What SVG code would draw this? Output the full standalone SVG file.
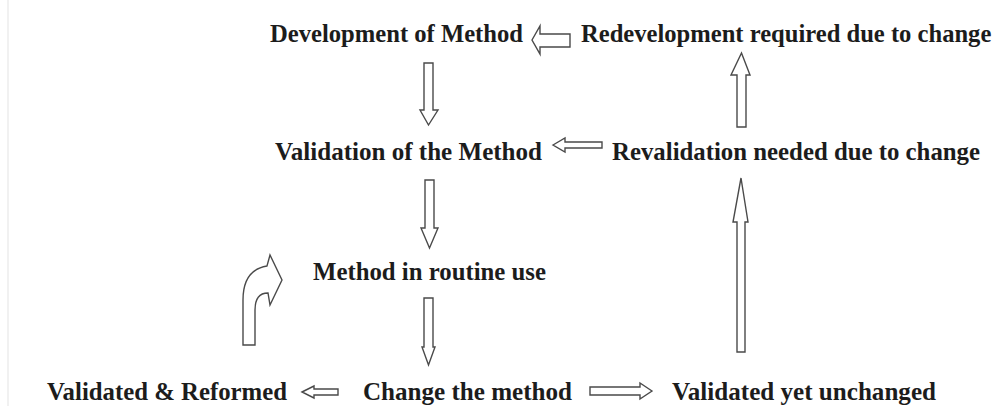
<svg xmlns="http://www.w3.org/2000/svg" width="999" height="406" viewBox="0 0 999 406">
<style>
.t{font-family:"Liberation Serif","Times New Roman",serif;font-weight:bold;font-size:26px;fill:#1c1c1c}
.a{fill:#fff;stroke:#4a4a4a;stroke-width:1.4;stroke-linejoin:miter}
</style>
<rect width="999" height="406" fill="#fff"/>
<line x1="8" y1="0" x2="8" y2="406" stroke="#ececec" stroke-width="1.5"/>
<g id="n-development"><text class="t" x="270" y="42" textLength="253" lengthAdjust="spacingAndGlyphs">Development of Method</text></g>
<g id="n-redevelopment"><text class="t" x="581" y="42" style="font-size:24.6px">Redevelopment required due to change</text></g>
<g id="n-validation"><text class="t" x="275" y="160" textLength="267" lengthAdjust="spacingAndGlyphs">Validation of the Method</text></g>
<g id="n-revalidation"><text class="t" x="612" y="160" textLength="368" lengthAdjust="spacingAndGlyphs">Revalidation needed due to change</text></g>
<g id="n-routine"><text class="t" x="313" y="280" textLength="233" lengthAdjust="spacingAndGlyphs">Method in routine use</text></g>
<g id="n-reformed"><text class="t" x="47" y="400" textLength="240" lengthAdjust="spacingAndGlyphs">Validated &amp; Reformed</text></g>
<g id="n-change"><text class="t" x="363" y="400" textLength="209" lengthAdjust="spacingAndGlyphs">Change the method</text></g>
<g id="n-unchanged"><text class="t" x="672" y="400" textLength="264" lengthAdjust="spacingAndGlyphs">Validated yet unchanged</text></g>
<g id="connectors">
<polygon class="a" points="424,63 433,63 433,110 438,110 428.5,125 420,110 424,110"/>
<polygon class="a" points="425,180 434,180 434,228 438,228 429.5,248 421,228 425,228"/>
<polygon class="a" points="424,298 433,298 433,347 435,347 428.5,365 422,347 424,347"/>
<polygon class="a" points="532,40 540,26 540,34 570,34 570,47 540,47 540,54"/>
<polygon class="a" points="553,145 565,138 565,142 602,142 602,148 565,148 565,152"/>
<polygon class="a" points="737,127 746,127 746,75 750,75 741.5,53 731,75 737,75"/>
<polygon class="a" points="737,352 745,352 745,222 748,222 741,178 733,222 737,222"/>
<polygon class="a" points="302,392 314,386 314,389 338,389 338,395 314,395 314,398"/>
<polygon class="a" points="652,391 640,383 640,387 590,387 590,395 640,395 640,399"/>
<path class="a" d="M243,345 L243,300 Q243,270 267,266 L270,255 L282,280 L270,305 L268,293 Q255,293 255,310 L255,345 Z"/>
</g>
</svg>
